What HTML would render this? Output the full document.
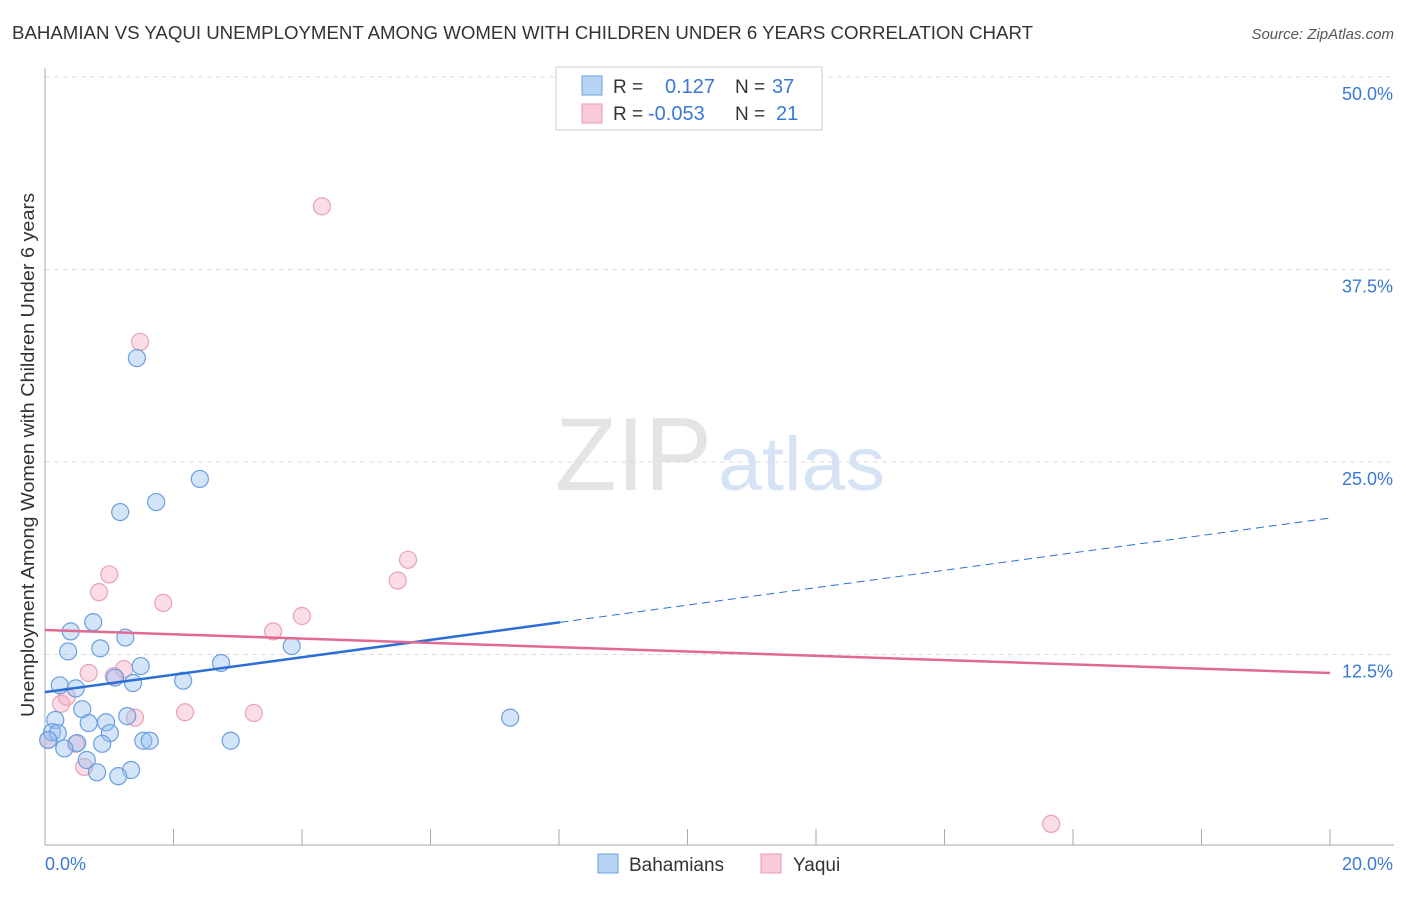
<!DOCTYPE html>
<html><head><meta charset="utf-8"><style>
body{margin:0;background:#fff;font-family:"Liberation Sans",sans-serif;}
svg text{font-family:"Liberation Sans",sans-serif;}
</style></head><body>
<svg id="chart" width="1406" height="892">
<text x="12" y="39" font-size="18" fill="#333" textLength="1021" lengthAdjust="spacingAndGlyphs">BAHAMIAN VS YAQUI UNEMPLOYMENT AMONG WOMEN WITH CHILDREN UNDER 6 YEARS CORRELATION CHART</text>
<text x="1394" y="39" font-size="15" fill="#555" text-anchor="end" font-style="italic">Source: ZipAtlas.com</text>
<text x="555" y="490" font-size="104" fill="#e4e4e4" textLength="157" lengthAdjust="spacingAndGlyphs" font-family="Liberation Serif">ZIP</text>
<text x="718" y="490" font-size="76" fill="#d6e3f5" textLength="167" lengthAdjust="spacingAndGlyphs">atlas</text>
<text transform="translate(34,455) rotate(-90)" font-size="18" fill="#333" text-anchor="middle" textLength="524" lengthAdjust="spacingAndGlyphs">Unemployment Among Women with Children Under 6 years</text>
<g id="grid"></g><g id="marks"></g>
<g>
<rect x="556" y="67" width="266" height="63" fill="#fff" stroke="#ccc"/>
<rect x="582" y="76" width="20" height="19" fill="#b8d4f5" stroke="#6a9fe0"/>
<rect x="582" y="104" width="20" height="19" fill="#f9c9d7" stroke="#e79ab2"/>
<text x="613" y="93" font-size="19" fill="#333">R =</text><text x="665" y="93" font-size="20" fill="#3a78d8">0.127</text>
<text x="735" y="93" font-size="19" fill="#333">N =</text><text x="772" y="93" font-size="20" fill="#3a78d8">37</text>
<text x="613" y="120" font-size="19" fill="#333">R =</text><text x="648" y="120" font-size="20" fill="#3a78d8">-0.053</text>
<text x="735" y="120" font-size="19" fill="#333">N =</text><text x="776" y="120" font-size="20" fill="#3a78d8">21</text>
</g>
<g>
<rect x="598" y="854" width="20" height="19" fill="#b8d4f5" stroke="#6a9fe0"/>
<text x="629" y="871" font-size="19" fill="#333">Bahamians</text>
<rect x="761" y="854" width="20" height="19" fill="#f9c9d7" stroke="#e79ab2"/>
<text x="793" y="871" font-size="19" fill="#333">Yaqui</text>
</g>
</svg>
<script>
const yTicks=[12.5,25,37.5,50];
const yTickLabels=["12.5%","25.0%","37.5%","50.0%"];
const xTickLabels=["0.0%","20.0%"];
const blueX=[1.43,2.41,1.73,1.17,0.75,0.40,1.25,0.36,0.86,3.84,1.49,2.74,1.09,2.15,1.37,0.23,0.48,0.58,1.28,0.16,0.68,0.95,7.24,1.01,0.11,0.20,1.53,1.63,2.89,0.89,0.50,0.30,0.65,0.81,1.34,1.14,0.05];
const blueY=[31.75,23.9,22.4,21.75,14.6,14.0,13.6,12.7,12.9,13.05,11.75,11.95,11.0,10.8,10.65,10.5,10.3,8.95,8.5,8.25,8.05,8.1,8.4,7.4,7.45,7.4,6.9,6.9,6.9,6.7,6.75,6.4,5.65,4.85,5.0,4.6,6.95];
const pinkX=[4.31,1.48,1.0,1.84,0.84,5.65,5.49,4.0,3.55,0.68,1.23,1.07,0.25,0.34,1.40,2.18,3.25,0.48,0.61,15.66,0.05];
const pinkY=[41.6,32.8,17.7,15.85,16.55,18.65,17.3,15.0,14.0,11.3,11.55,11.1,9.3,9.75,8.4,8.75,8.7,6.7,5.2,1.5,6.95];
const blueTrend=[10.06,21.36], blueSolidEnd=8.02;
const pinkTrend=[14.09,11.3];
const NS="http://www.w3.org/2000/svg";
const sx=v=>45+v/20*1285, sy=v=>847-v/12.5*192.5;
function mk(t,a,p){const e=document.createElementNS(NS,t);for(const k in a)e.setAttribute(k,a[k]);p.appendChild(e);return e;}
const g=document.getElementById('grid'),m=document.getElementById('marks');
yTicks.forEach((t,i)=>{
 const l=mk('line',{x1:45,x2:1394,y1:sy(t),y2:sy(t),stroke:'#ddd','stroke-dasharray':'5,4'},g);
 
 
 const tx=mk('text',{x:1393,y:sy(t)+23,'font-size':18,fill:'#3a78d8','text-anchor':'end'},g);tx.textContent=yTickLabels[i];
 
 
});
const ax=mk('line',{x1:45,x2:45,y1:68,y2:845,stroke:'#aaa'},g);


const bx=mk('line',{x1:45,x2:1394,y1:845,y2:845,stroke:'#aaa'},g);


for(let i=1;i<=10;i++){const t=mk('line',{x1:sx(i*2),x2:sx(i*2),y1:829,y2:845,stroke:'#aaa'},g);
 
 }
[[0,'start',45],[20,'end',1393]].forEach((d,i)=>{const t=mk('text',{x:d[2],y:870,'font-size':18,fill:'#3a78d8','text-anchor':d[1]},g);t.textContent=xTickLabels[i];
 
 });
pinkX.forEach((x,i)=>{const c=mk('circle',{cx:sx(x),cy:sy(pinkY[i]),r:8.5,fill:'rgba(245,170,195,0.4)',stroke:'#eaa0b8','stroke-width':1.2},m);
 
 });
blueX.forEach((x,i)=>{const c=mk('circle',{cx:sx(x),cy:sy(blueY[i]),r:8.5,fill:'rgba(150,190,240,0.4)',stroke:'#6a9fe0','stroke-width':1.2},m);
 
 });
const by=x=>blueTrend[0]+(blueTrend[1]-blueTrend[0])*x/20;
const b1=mk('line',{x1:sx(0),y1:sy(by(0)),x2:sx(blueSolidEnd),y2:sy(by(blueSolidEnd)),stroke:'#2b6fd6','stroke-width':2.5},m);


const b2=mk('line',{x1:sx(blueSolidEnd),y1:sy(by(blueSolidEnd)),x2:sx(20),y2:sy(by(20)),stroke:'#2b6fd6','stroke-width':1,'stroke-dasharray':'8,5'},m);


const p1=mk('line',{x1:sx(0),y1:sy(pinkTrend[0]),x2:sx(20),y2:sy(pinkTrend[1]),stroke:'#e26a92','stroke-width':2.5},m);


</script>
</body></html>
